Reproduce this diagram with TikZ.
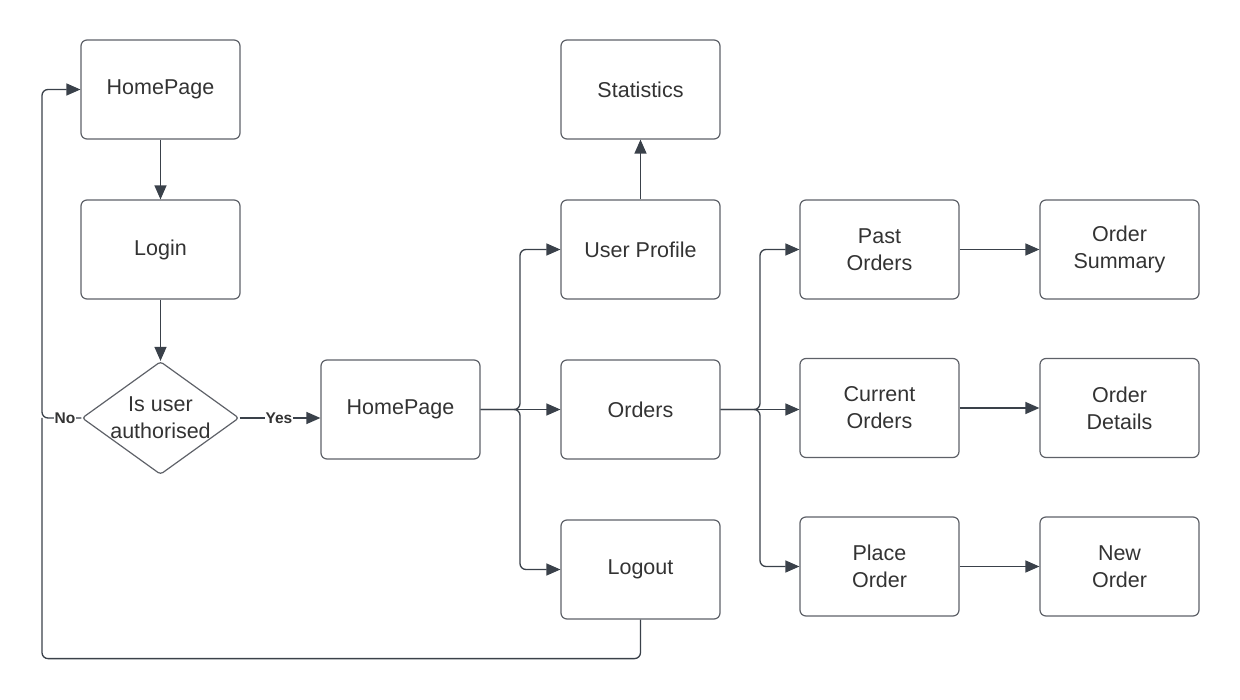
\documentclass[tikz,border=0pt]{standalone}
\usepackage{fontspec}
\setmainfont{Liberation Sans}
\usetikzlibrary{arrows.meta,shapes.geometric}
\definecolor{linec}{HTML}{3A414A}
\definecolor{boxc}{HTML}{5E6168}
\definecolor{txtc}{HTML}{333333}
\tikzset{
  box/.style={draw=boxc, line width=1.2pt, rounded corners=6pt, minimum width=159pt, minimum height=99pt, inner sep=0pt, align=center, text=txtc, font=\fontsize{21.5}{27}\selectfont},
  conn/.style={draw=linec, line width=1.3pt, rounded corners=6pt, -{Triangle[length=14pt,width=12pt]}},
  plain/.style={draw=linec, line width=1.3pt, rounded corners=6pt},
  lab/.style={fill=white, inner sep=1pt, text=txtc, font=\fontsize{15.5}{18}\selectfont\bfseries}
}
\begin{document}
\begin{tikzpicture}[x=1pt,y=-1pt]
\useasboundingbox (0,0) rectangle (1240,700);
\node[box] (hp1) at (160.5,89.5) {HomePage};
\node[box] (login) at (160.5,249.5) {Login};
\node[draw=boxc, line width=1.2pt, shape=diamond, rounded corners=3pt, minimum width=157pt, minimum height=113pt, inner sep=0pt] (dec) at (160.5,418) {};
\node[text=txtc, align=center, font=\fontsize{21.5}{27}\selectfont] (dect) at (dec.center) {Is user\\authorised};
\node[box] (hp2) at (400.5,409.5) {HomePage};
\node[box] (stat) at (640.5,89.5) {Statistics};
\node[box] (prof) at (640.5,249.5) {User Profile};
\node[box] (ord) at (640.5,409.5) {Orders};
\node[box] (logout) at (640.5,569.5) {Logout};
\node[box] (past) at (879.5,249.5) {Past\\Orders};
\node[box] (cur) at (879.5,408) {Current\\Orders};
\node[box] (place) at (879.5,566.5) {Place\\Order};
\node[box] (summ) at (1119.5,249.5) {Order\\Summary};
\node[box] (det) at (1119.5,408) {Order\\Details};
\node[box] (new) at (1119.5,566.5) {New\\Order};
\coordinate (lx) at (42,0);
\coordinate (hx) at (520,0);
\coordinate (ox) at (760,0);
% left column
\draw[conn] (hp1) -- (login);
\draw[conn] (login) -- (dec);
\draw[conn] (dec.west) -- (lx |- dec.west) |- (hp1.west);
\node[lab] (no) at (65,418) {No};
\draw[plain] (logout.south) -- ++(0,39) -| (lx |- dec.west);
\draw[conn] (dec.east) -- (hp2.west |- dec.east);
\node[lab] (yes) at (279,418) {Yes};
% homepage branches
\draw[conn] (hp2.east) -- (hx |- hp2.east) |- (prof.west);
\draw[conn] (hp2.east) -- (ord.west);
\draw[conn] (hp2.east) -- (hx |- hp2.east) |- (logout.west);
\draw[conn] (prof) -- (stat);
% orders branches
\draw[conn] (ord.east) -- (ox |- ord.east) |- (past.west);
\draw[conn] (ord.east) -- (cur.west |- ord.east);
\draw[conn] (ord.east) -- (ox |- ord.east) |- (place.west);
\draw[conn] (past) -- (summ);
\draw[conn] (cur) -- (det);
\draw[conn] (place) -- (new);
\end{tikzpicture}
\end{document}
